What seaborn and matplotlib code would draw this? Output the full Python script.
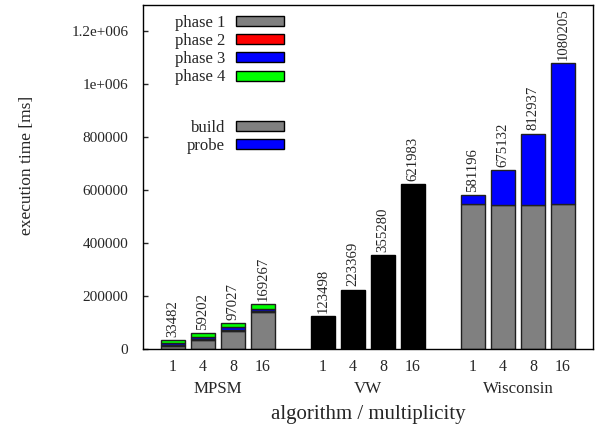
import numpy as np
import pandas as pd
import matplotlib
matplotlib.use("Agg")
import matplotlib.pyplot as plt
import seaborn as sns
from matplotlib.patches import Patch

# ---------------- data ----------------
groups = ["MPSM", "VW", "Wisconsin"]
multiplicities = ["1", "4", "8", "16"]

mpsm_phase1 = [10000, 33000, 69000, 140000]
mpsm_phase2 = [6000, 4000, 2500, 2500]
mpsm_phase3 = [8000, 10000, 10000, 10000]
mpsm_phase4 = [9482, 12202, 15527, 16767]
mpsm_total = [33482, 59202, 97027, 169267]

vw_total = [123498, 223369, 355280, 621983]

wis_build = [547000, 543000, 545000, 549000]
wis_probe = [34196, 132132, 267937, 531205]
wis_total = [581196, 675132, 812937, 1080205]

ytick_values = [0, 200000, 400000, 600000, 800000, 1000000, 1200000]
ytick_labels = ["0", "200000", "400000", "600000", "800000", "1e+006", "1.2e+006"]

phase_labels = ["phase 1", "phase 2", "phase 3", "phase 4"]
phase_colors = ["#808080", "#ff0000", "#0000ff", "#00ff00"]
bp_labels = ["build", "probe"]
bp_colors = ["#808080", "#0000ff"]
vw_color = "#000000"

# ---------------- style ----------------
sns.set_style("white")
plt.rcParams["font.family"] = ["Liberation Serif", "DejaVu Serif"]
plt.rcParams["font.size"] = 11

fig = plt.figure(figsize=(5.99, 4.24), dpi=100)
ax = fig.add_axes([143 / 599, 1 - 349 / 424, 450 / 599, 344 / 424])

n = len(multiplicities)
pos = {g: [gi * (n + 1) + i for i in range(n)] for gi, g in enumerate(groups)}
BAR_W = 0.77
EDGE = "#202020"


def layer(xs, vals, bottoms, color, edge=EDGE):
    df = pd.DataFrame({"pos": xs, "val": vals, "bottom": bottoms})
    sns.barplot(data=df, x="pos", y="val", native_scale=True, color=color,
                saturation=1, width=BAR_W, errorbar=None,
                bottom=df["bottom"].to_numpy(), edgecolor=edge,
                linewidth=1.0, ax=ax)


# MPSM stacked phases
bottom = np.zeros(n)
for vals, col in zip([mpsm_phase1, mpsm_phase2, mpsm_phase3, mpsm_phase4], phase_colors):
    layer(pos["MPSM"], vals, bottom.copy(), col)
    bottom = bottom + np.array(vals)

# VW single bars
layer(pos["VW"], vw_total, np.zeros(n), vw_color, edge="#000000")

# Wisconsin build / probe
layer(pos["Wisconsin"], wis_build, np.zeros(n), bp_colors[0])
layer(pos["Wisconsin"], wis_probe, np.array(wis_build, dtype=float), bp_colors[1])

# value labels
for g, totals in zip(groups, [mpsm_total, vw_total, wis_total]):
    for x, t in zip(pos[g], totals):
        ax.annotate(str(t), xy=(x, t), xytext=(0, 2.5), textcoords="offset points",
                    rotation=90, ha="center", va="bottom", fontsize=10.6)

# group labels
for g in groups:
    c = np.mean(pos[g])
    ax.annotate(g, xy=(c, 0), xycoords=("data", "axes fraction"),
                xytext=(0, -31.7), textcoords="offset points",
                ha="center", va="baseline", fontsize=12.2)

# axes
ax.set_xlim(-1, 14)
ax.set_ylim(0, 1300000)
all_pos = pos["MPSM"] + pos["VW"] + pos["Wisconsin"]
ax.set_xticks(all_pos)
ax.set_xticklabels(multiplicities * len(groups))
ax.set_yticks(ytick_values)
ax.set_yticklabels(ytick_labels)
ax.tick_params(axis="y", direction="in", length=3.6, width=1, pad=10.5,
               labelsize=11, left=True, right=False)
ax.tick_params(axis="x", length=0, pad=7, labelsize=11.5, bottom=True)
for s in ax.spines.values():
    s.set_visible(True)
    s.set_color("black")
    s.set_linewidth(1)

ax.set_xlabel("algorithm / multiplicity", fontsize=15)
ax.xaxis.label.set_va("baseline")
ax.xaxis.set_label_coords(0.501, (349 - 419) / 344)
ax.set_ylabel("execution time [ms]", fontsize=12.5)
ax.yaxis.set_label_coords(-0.239, 0.535)

# legends
leg_kw = dict(loc="upper right", markerfirst=False, frameon=False,
              handlelength=2.87, handleheight=0.56, handletextpad=0.66,
              labelspacing=0.13, borderpad=0, borderaxespad=0, fontsize=12)
h1 = [Patch(facecolor=c, edgecolor="black", linewidth=1) for c in phase_colors]
leg1 = ax.legend(h1, phase_labels, bbox_to_anchor=(0.3133, 0.971), **leg_kw)
ax.add_artist(leg1)
h2 = [Patch(facecolor=c, edgecolor="black", linewidth=1) for c in bp_colors]
ax.legend(h2, bp_labels, bbox_to_anchor=(0.3133, 0.667), **leg_kw)

fig.savefig("out.png", dpi=100)
